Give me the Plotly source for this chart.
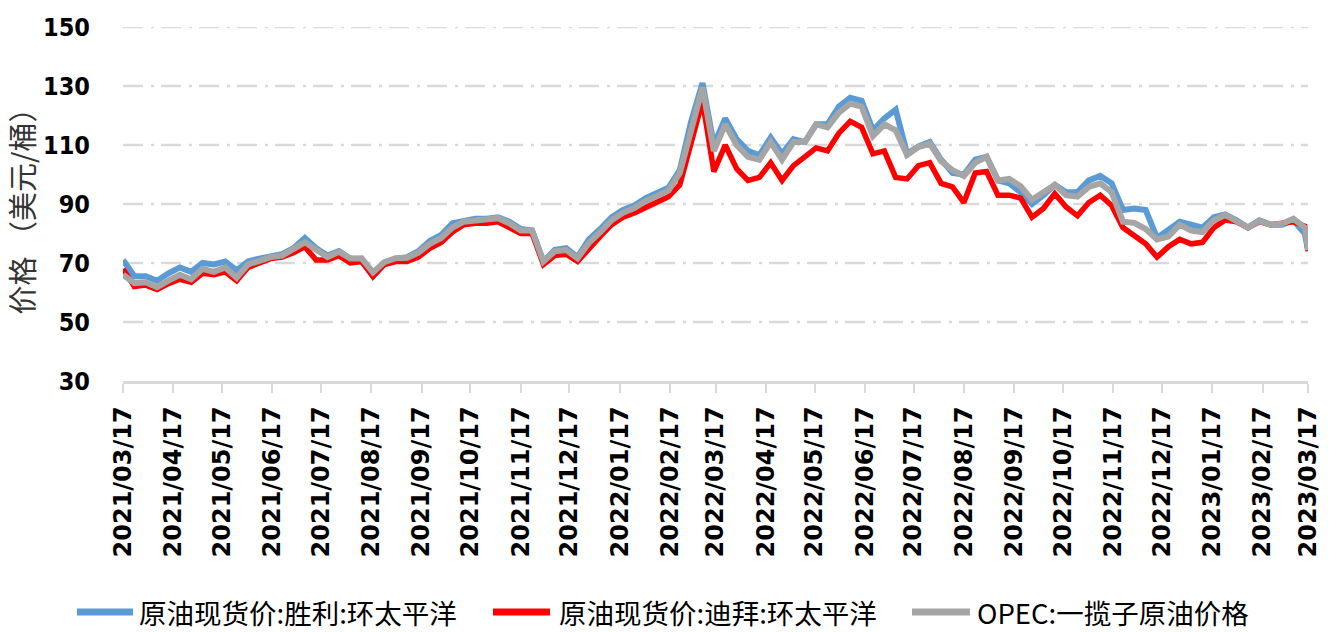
import pandas as pd
import plotly.graph_objects as go

# Weekly sampling dates, plus the closing day of the period
dates = list(pd.date_range("2021-03-17", periods=105, freq="7D")) + [pd.Timestamp("2023-03-17")]

# 原油现货价:胜利:环太平洋 (USD/bbl)
shengli = [
    71, 65.5, 65.5, 64, 66.5, 68.5, 67, 70, 69.5, 70.5,
    67.5, 70.5, 71.5, 72.5, 73, 75, 78.5, 75, 72.5, 74,
    71.5, 71, 65.5, 70, 71.5, 72, 74, 77.5, 79.5, 83.5,
    84.5, 85, 85, 85.5, 84, 81.5, 81, 70.5, 74.5, 75,
    72, 78, 81.5, 85.5, 88, 89.5, 92, 93.5, 95.5, 101.5,
    118, 131, 110, 119, 112, 108, 106.5, 112.5, 107, 112,
    111, 117, 117, 123, 126, 125, 115, 119, 122, 107,
    109.5, 111, 105, 100.5, 100, 105, 106, 98, 97, 94,
    90, 93, 96.5, 94, 94, 98, 99.5, 97, 88, 88.5,
    88, 78.5, 81, 84, 83, 82, 85.5, 86.5, 84.5, 82,
    84.5, 83, 83, 84.5, 80, 74.5,
]

# 原油现货价:迪拜:环太平洋 (USD/bbl)
dubai = [
    68, 62, 62.5, 61, 63, 64.5, 63.5, 66.5, 66, 67,
    64, 68.5, 70, 71.5, 72, 73.5, 75.5, 71, 71, 72.5,
    70, 70.5, 65.5, 69.5, 70.5, 70.5, 72, 75, 77, 80.5,
    83, 83.5, 83.5, 84, 82, 80, 80, 69.5, 72.5, 73,
    70.5, 75, 79, 83, 85.5, 87, 89, 90.5, 92.5, 96.5,
    110, 125, 101, 110, 102, 98, 99, 104, 98, 103,
    106, 109, 108, 114, 118, 116, 107, 108, 99, 98.5,
    103, 104, 97, 95.8, 90.5, 100.5, 101, 93, 93, 92,
    85.5, 88.5, 93.5, 89, 86, 90.5, 93, 89.5, 82, 79.5,
    76.5, 72, 75.5, 78, 76.5, 77, 82, 84.6, 84, 82,
    84, 83, 83.5, 84, 82.5, 74,
]

# OPEC:一揽子原油价格 (USD/bbl)
opec = [
    66, 63.2, 63.5, 61.8, 64, 66, 64.5, 68, 67, 68.5,
    65, 69.5, 70.7, 72, 72.5, 74.5, 77, 74.5, 72, 73.8,
    71.5, 71.6, 66.8, 70.3, 71.6, 71.8, 73.5, 76.5, 78.5, 82,
    84, 84.4, 84.6, 85.2, 83.5, 81, 81, 70.5, 74, 74.4,
    71.6, 76.8, 80.5, 84.5, 87, 88.6, 91, 92.5, 94.5, 100.5,
    115, 129.5, 108, 117, 110, 106, 105, 111, 105, 111,
    111, 117, 116, 121, 124, 123, 113, 117, 115, 106.6,
    109.3, 110.5, 104.5, 101.5, 99.5, 104, 106, 98, 98.5, 96,
    91.4, 93.7, 96.5, 93, 92.5, 95.8, 97, 94, 84, 83.6,
    81.5, 78, 79, 83, 81, 80.5, 84.5, 86.3, 84, 82,
    84.3, 83, 83.3, 85, 82, 74.4,
]

# Monthly tick positions on the 17th
tick_dates = [pd.Timestamp(2021 + (2 + k) // 12, (2 + k) % 12 + 1, 17) for k in range(25)]
tick_text = [d.strftime("%Y/%m/%d") for d in tick_dates]

y_ticks = [30, 50, 70, 90, 110, 130, 150]

series = [
    ("原油现货价:胜利:环太平洋", shengli, "#5b9bd5", 6),
    ("原油现货价:迪拜:环太平洋", dubai, "#ff0000", 5.5),
    ("OPEC:一揽子原油价格", opec, "#a5a5a5", 6),
]

W, H = 1336, 632
L, R, T, B = 123, 28, 27, 251
plot_w, plot_h = W - L - R, H - T - B

fig = go.Figure()
for name, vals, color, width in series:
    fig.add_trace(go.Scatter(
        x=dates, y=vals, name=name, mode="lines",
        line=dict(color=color, width=width),
        showlegend=False,
    ))

# Dash-dot horizontal gridlines
grid_dash = "20px,8px,3px,7px"
for v in y_ticks[1:]:
    fig.add_shape(
        type="line", xref="paper", yref="y", x0=0, x1=1, y0=v, y1=v,
        line=dict(color="#d9d9d9", width=2.5, dash=grid_dash), layer="below",
    )

# Legend row beneath the axis: a line sample followed by its label
legend_y_px = 612
legend_items = [(77, 133, 137), (493, 550, 557), (912, 970, 975)]
ly = (H - B - legend_y_px) / plot_h
for (x0, x1, xt), (name, _, color, _) in zip(legend_items, series):
    fig.add_shape(
        type="line", xref="paper", yref="paper",
        x0=(x0 - L) / plot_w, x1=(x1 - L) / plot_w, y0=ly, y1=ly,
        line=dict(color=color, width=7),
    )
    fig.add_annotation(
        xref="paper", yref="paper", x=(xt - L) / plot_w, y=ly,
        xanchor="left", yanchor="middle", text=name, showarrow=False,
        font=dict(family="Noto Sans CJK SC", size=27.5, color="#000000"),
    )

fig.update_layout(
    width=W, height=H,
    margin=dict(l=L, r=R, t=T, b=B, autoexpand=False),
    paper_bgcolor="white", plot_bgcolor="white",
    font=dict(family="Noto Sans CJK SC", color="#000000"),
    showlegend=False,
    xaxis=dict(
        type="date", automargin=False,
        range=[pd.Timestamp("2021-03-17"), pd.Timestamp("2023-03-17")],
        tickmode="array", tickvals=tick_dates, ticktext=tick_text,
        tickangle=-90,
        tickfont=dict(family="DejaVu Sans", size=24, color="#000000", weight="bold"),
        showgrid=False, zeroline=False,
        showline=True, linecolor="#d9d9d9", linewidth=2.5,
        ticks="outside", ticklen=9, tickwidth=1.5, tickcolor="#d9d9d9",
        ticklabelstandoff=4,
    ),
    yaxis=dict(
        range=[30, 150], tickmode="array", tickvals=y_ticks, automargin=False,
        tickfont=dict(family="DejaVu Sans Condensed", size=25, color="#000000", weight="bold"),
        showgrid=False, zeroline=False, showline=False,
        ticks="", ticklabelstandoff=32,
        title=dict(
            text="价格 （美元/桶）",
            font=dict(family="Noto Sans CJK SC", size=29, color="#333333"),
            standoff=8,
        ),
    ),
)

fig.write_html("out.html")
